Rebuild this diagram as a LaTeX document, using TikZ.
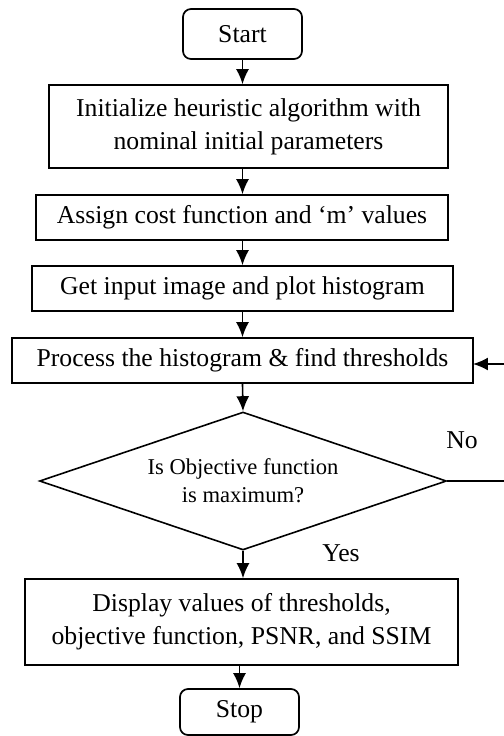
\documentclass[tikz,border=0pt]{standalone}
\usepackage{fontspec}
\setmainfont{Liberation Serif}
\usetikzlibrary{arrows.meta,shapes.geometric}
\tikzset{
	stepbox/.style={draw, line width=0.85pt, align=center, inner sep=0pt, font=\fontsize{12.85}{16.5}\selectfont},
	termbox/.style={stepbox, rounded corners=4pt},
	decbox/.style={draw, diamond, line width=0.8pt, aspect=2.95, inner sep=0pt, align=center, font=\fontsize{11.3}{14}\selectfont},
	flow/.style={line width=0.8pt, -{Latex[length=7.5pt,width=6.5pt]}}
}

\begin{document}
\begin{tikzpicture}[x=0.5pt, y=-0.5pt]
					\useasboundingbox (0,0) rectangle (504,736);
					
					\node[termbox, minimum width=59.5pt, minimum height=25pt] (start) at (242.5,34) {Start};
					\node[stepbox, minimum width=199.5pt, minimum height=41.5pt] (init) at (248.5,126.5) {Initialize heuristic algorithm with\\nominal initial parameters};
					\node[stepbox, minimum width=206pt, minimum height=22.5pt] (assign) at (242,217.5) {Assign cost function and `m' values};
					\node[stepbox, minimum width=210.5pt, minimum height=22.5pt] (input) at (242.5,288.5) {Get input image and plot histogram};
					\node[stepbox, minimum width=230.5pt, minimum height=22.5pt] (process) at (242.5,360.5) {Process the histogram \& find thresholds};
					\node[decbox, minimum width=203.5pt, minimum height=69pt] (check) at (243,481) {Is Objective function\\is maximum?};
					\node[stepbox, minimum width=216.5pt, minimum height=43pt] (disp) at (241.5,622) {Display values of thresholds,\\objective function, PSNR, and SSIM};
					\node[termbox, minimum width=59.5pt, minimum height=23pt] (stop) at (239.5,712) {Stop};
					
					\node[font=\fontsize{12.85}{15}\selectfont] (no) at (462,440) {No};
					\node[font=\fontsize{12.85}{15}\selectfont] (yes) at (341,553) {Yes};
					
					% main flow
					\draw[flow] (start.south) -- (start.south |- init.north);
					\draw[flow] (start.south |- init.south) -- (start.south |- assign.north);
					\draw[flow] (start.south |- assign.south) -- (start.south |- input.north);
					\draw[flow] (start.south |- input.south) -- (start.south |- process.north);
					\draw[flow] (start.south |- process.south) -- (check.north);
					\draw[flow] (check.south) -- (check.south |- disp.north);
					\draw[flow] (stop.north |- disp.south) -- (stop.north);
					
					% loop back when not maximum
					\coordinate (loopin) at (473,364);
					\coordinate (corner) at (508,481);
					\draw[line width=0.8pt] (check.east) -- (corner) -- (corner |- loopin);
					\draw[flow] (corner |- loopin) -- (loopin);
				\end{tikzpicture}
\end{document}
